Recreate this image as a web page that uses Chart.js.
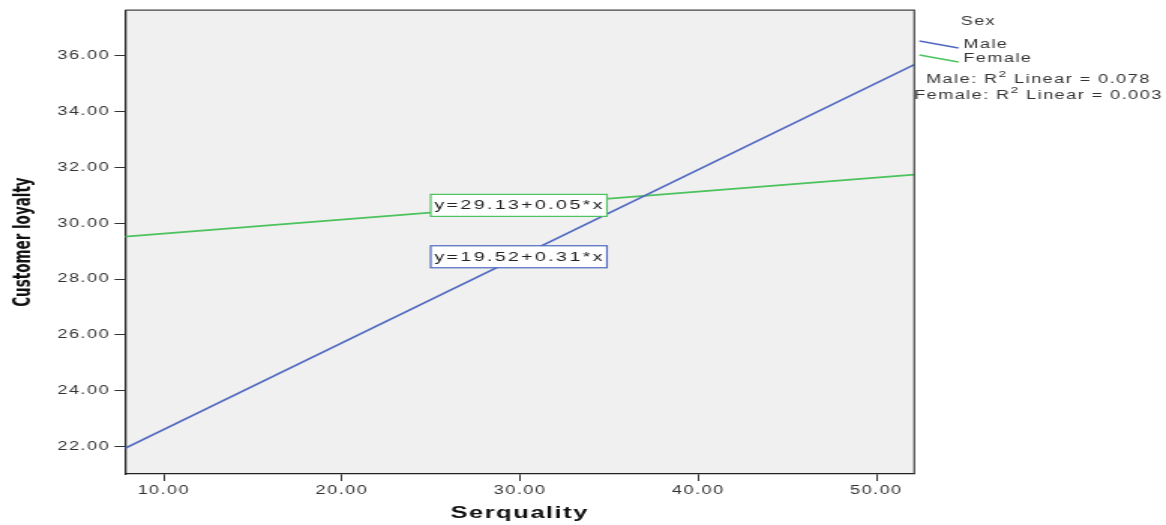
<!DOCTYPE html>
<html>
<head>
<meta charset="utf-8">
<title>Customer loyalty by Serquality</title>
<script src="https://cdn.jsdelivr.net/npm/chart.js@4"></script>
<style>
  html, body { margin: 0; padding: 0; background: #fff; overflow: hidden; }
  #wrap { width: 1166px; height: 525px; }
  /* the SPSS export is stretched sideways, so draw narrow and widen it */
  #chart { display: block; width: 777px; height: 525px; transform: scaleX(1.5006); transform-origin: 0 0; }
</style>
</head>
<body>
<div id="wrap"><canvas id="chart" width="777" height="525"></canvas></div>
<script>
// Fit lines (ends at the plot edges)
const serquality = [7.82, 52.13];
const maleLoyalty = [21.94, 35.68];
const femaleLoyalty = [29.52, 31.74];

const xTicks = [10, 20, 30, 40, 50];
const yTicks = [22, 24, 26, 28, 30, 32, 34, 36];

const seriesNames = ['Male', 'Female'];
const seriesColors = ['#5068c0', '#4cc35e'];
const equations = ['y=19.52+0.31*x', 'y=29.13+0.05*x'];
const r2Values = ['0.078', '0.003'];
// equation boxes: left x, centre y (data units)
const equationAt = [[24.98, 28.80], [24.98, 30.64]];

const FONT = '"Liberation Sans", Arial, sans-serif';

const decor = {
  id: 'spssDecor',
  beforeDraw(chart) {
    const { ctx, chartArea: a } = chart;
    ctx.save();
    ctx.fillStyle = '#f0f0f0';
    ctx.fillRect(a.left, a.top, a.right - a.left, a.bottom - a.top);
    ctx.restore();
    // SPSS text is spaced out; applies to the axis labels drawn next
    ctx.letterSpacing = '1px';
  },
  afterDatasetsDraw(chart) {
    const { ctx, chartArea: a, scales } = chart;
    ctx.save();
    ctx.letterSpacing = '0px';
    // top and right frame
    ctx.strokeStyle = '#444';
    ctx.lineWidth = 1.2;
    ctx.beginPath();
    ctx.moveTo(a.left, a.top);
    ctx.lineTo(a.right, a.top);
    ctx.lineTo(a.right, a.bottom);
    ctx.stroke();

    // y axis title (narrow bold, no spacing)
    ctx.save();
    ctx.translate(16, (a.top + a.bottom) / 2);
    ctx.rotate(-Math.PI / 2);
    ctx.font = 'bold 15px "DejaVu Sans Condensed", ' + FONT;
    ctx.fillStyle = '#111';
    ctx.textAlign = 'center';
    ctx.textBaseline = 'middle';
    ctx.fillText('Customer loyalty', 0, 0);
    ctx.restore();

    // equation labels
    ctx.letterSpacing = '1.6px';
    ctx.font = '13px ' + FONT;
    ctx.textBaseline = 'middle';
    ctx.textAlign = 'left';
    equations.forEach((txt, i) => {
      const x = scales.x.getPixelForValue(equationAt[i][0]);
      const y = scales.y.getPixelForValue(equationAt[i][1]);
      const w = ctx.measureText(txt).width + 4;
      ctx.fillStyle = '#fff';
      ctx.fillRect(x, y - 11, w, 22);
      ctx.strokeStyle = seriesColors[i];
      ctx.lineWidth = 1.2;
      ctx.strokeRect(x, y - 11, w, 22);
      ctx.fillStyle = '#222';
      ctx.fillText(txt, x + 2.5, y + 0.5);
    });
    ctx.restore();
  },
  afterDraw(chart) {
    const { ctx } = chart;
    ctx.save();
    ctx.letterSpacing = '1px';
    ctx.fillStyle = '#333';
    ctx.textBaseline = 'middle';
    ctx.font = '12px ' + FONT;
    ctx.textAlign = 'center';
    ctx.fillText('Sex', 652, 22);

    ctx.textAlign = 'left';
    seriesNames.forEach((name, i) => {
      const y = 45 + i * 14;
      ctx.strokeStyle = seriesColors[i];
      ctx.lineWidth = 1.4;
      ctx.beginPath();
      ctx.moveTo(612.7, y - 4);
      ctx.lineTo(638.7, y + 3);
      ctx.stroke();
      ctx.fillText(name, 642, y);
    });

    // R squared notes
    seriesNames.forEach((name, i) => {
      const y = 80 + i * 16;
      const big = '12px ' + FONT, small = '9px ' + FONT;
      const p1 = name + ': R', p2 = '2', p3 = ' Linear = ' + r2Values[i];
      ctx.font = big;
      const w1 = ctx.measureText(p1).width, w3 = ctx.measureText(p3).width;
      ctx.font = small;
      const w2 = ctx.measureText(p2).width;
      const x = 692 - (w1 + w2 + w3) / 2;
      ctx.font = big;
      ctx.fillText(p1, x, y);
      ctx.font = small;
      ctx.fillText(p2, x + w1, y - 5);
      ctx.font = big;
      ctx.fillText(p3, x + w1 + w2, y);
    });
    ctx.restore();
  }
};

function lineSet(i, ys) {
  return {
    label: seriesNames[i],
    data: serquality.map((x, k) => ({ x: x, y: ys[k] })),
    showLine: true,
    borderColor: seriesColors[i],
    borderWidth: 1.6,
    pointRadius: 0,
    fill: false
  };
}

new Chart(document.getElementById('chart'), {
  type: 'scatter',
  data: {
    datasets: [lineSet(0, maleLoyalty), lineSet(1, femaleLoyalty)]
  },
  options: {
    responsive: false,
    animation: false,
    layout: { padding: { top: 9, right: 167.7, left: 0, bottom: 0 } },
    plugins: { legend: { display: false }, tooltip: { enabled: false } },
    scales: {
      x: {
        type: 'linear',
        min: 7.82,
        max: 52.13,
        afterBuildTicks: s => { s.ticks = xTicks.map(v => ({ value: v })); },
        afterFit: s => { s.height = 51; },
        ticks: {
          color: '#333',
          font: { family: FONT, size: 12 },
          padding: 2,
          maxRotation: 0,
          autoSkip: false,
          callback: v => Number(v).toFixed(2)
        },
        grid: { drawOnChartArea: false, drawTicks: true, tickLength: 7, color: '#333' },
        border: { color: '#222', width: 1.3 },
        title: {
          display: true,
          text: 'Serquality',
          color: '#111',
          font: { family: FONT, size: 17, weight: 'bold' },
          padding: { top: 0, bottom: 1.4 }
        }
      },
      y: {
        type: 'linear',
        min: 21.02,
        max: 37.63,
        afterBuildTicks: s => { s.ticks = yTicks.map(v => ({ value: v })); },
        afterFit: s => { s.width = 83.3; },
        ticks: {
          color: '#333',
          font: { family: FONT, size: 12 },
          padding: 3,
          autoSkip: false,
          callback: v => Number(v).toFixed(2)
        },
        grid: { drawOnChartArea: false, drawTicks: true, tickLength: 7, color: '#333' },
        border: { color: '#222', width: 1.3 }
      }
    }
  },
  plugins: [decor]
});
</script>
</body>
</html>
